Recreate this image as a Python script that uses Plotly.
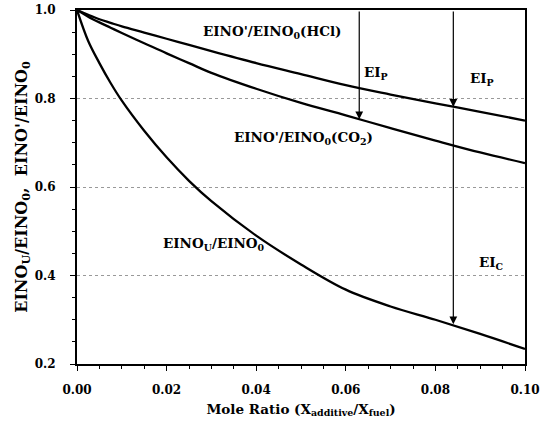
import plotly.graph_objects as go

# ---- data ----
mole_ratio = [0.0, 0.0025, 0.005, 0.0075, 0.01, 0.015, 0.02, 0.025, 0.03,
              0.04, 0.05, 0.06, 0.07, 0.08, 0.09, 0.10]
hcl_ratio = [1.0, 0.989, 0.979, 0.971, 0.963, 0.949, 0.935, 0.921, 0.907,
             0.880, 0.855, 0.830, 0.809, 0.789, 0.770, 0.750]
co2_ratio = [1.0, 0.985, 0.972, 0.960, 0.948, 0.925, 0.902, 0.880, 0.858,
             0.822, 0.790, 0.762, 0.733, 0.705, 0.678, 0.654]
unc_ratio = [1.0, 0.930, 0.880, 0.835, 0.795, 0.727, 0.667, 0.614, 0.568,
             0.490, 0.425, 0.368, 0.330, 0.300, 0.268, 0.234]

x_ticks = [0.00, 0.02, 0.04, 0.06, 0.08, 0.10]
x_tick_labels = ["0.00", "0.02", "0.04", "0.06", "0.08", "0.10"]
y_ticks = [0.2, 0.4, 0.6, 0.8, 1.0]
y_tick_labels = ["0.2", "0.4", "0.6", "0.8", "1.0"]

# arrows: (x, y_start, y_end)
arrows = [(0.063, 1.0, 0.753),
          (0.084, 1.0, 0.781),
          (0.084, 0.781, 0.290)]

# labels: (text, x, y, xanchor)
labels = [("EINO'/EINO<sub>0</sub>(HCl)", 0.0435, 0.951, "center"),
          ("EI<sub>P</sub>", 0.0637, 0.857, "left"),
          ("EI<sub>P</sub>", 0.0905, 0.843, "center"),
          ("EINO'/EINO<sub>0</sub>(CO<sub>2</sub>)", 0.0505, 0.711, "center"),
          ("EINO<sub>U</sub>/EINO<sub>0</sub>", 0.0305, 0.472, "center"),
          ("EI<sub>C</sub>", 0.0925, 0.428, "center")]

FONT = "DejaVu Serif"

fig = go.Figure()
for ys in (hcl_ratio, co2_ratio, unc_ratio):
    fig.add_trace(go.Scatter(x=mole_ratio, y=ys, mode="lines",
                             line=dict(color="black", width=2.3, shape="spline", smoothing=1.0),
                             showlegend=False, hoverinfo="skip"))

for (ax_x, y0, y1) in arrows:
    fig.add_annotation(x=ax_x, y=y1, ax=ax_x, ay=y0, xref="x", yref="y",
                       axref="x", ayref="y", showarrow=True, arrowhead=2,
                       arrowsize=1.3, arrowwidth=1.2, arrowcolor="black", text="")

for (t, lx, ly, anc) in labels:
    fig.add_annotation(x=lx, y=ly, text="<b>" + t + "</b>", showarrow=False,
                       xanchor=anc, yanchor="middle",
                       font=dict(family=FONT, size=13.5, color="black"))

fig.update_layout(
    width=545, height=426,
    margin=dict(l=77, r=20, t=10, b=62, autoexpand=False),
    paper_bgcolor="white", plot_bgcolor="white",
    font=dict(family=FONT, color="black"),
)
fig.update_xaxes(
    range=[0, 0.10], tickvals=x_ticks, ticktext=["<b>%s</b>" % s for s in x_tick_labels],
    tickfont=dict(family=FONT, size=12, color="black"),
    showline=True, linecolor="black", linewidth=1.5, mirror=True,
    ticks="outside", ticklen=5, tickwidth=1.2, tickcolor="black",
    minor=dict(dtick=0.005, ticks="outside", ticklen=3, tickwidth=1, tickcolor="black"),
    showgrid=False, zeroline=False, ticklabelstandoff=9, automargin=False,
    title=dict(text="<b>Mole Ratio (X<sub>additive</sub>/X<sub>fuel</sub>)</b>",
               font=dict(family=FONT, size=13.5, color="black"), standoff=8),
)
fig.update_yaxes(
    range=[0.2, 1.0], tickvals=y_ticks, ticktext=["<b>%s</b>" % s for s in y_tick_labels],
    tickfont=dict(family=FONT, size=12, color="black"),
    showline=True, linecolor="black", linewidth=2, mirror=True,
    ticks="outside", ticklen=5, tickwidth=1.2, tickcolor="black",
    minor=dict(dtick=0.05, ticks="outside", ticklen=3, tickwidth=1, tickcolor="black"),
    showgrid=True, gridcolor="#999999", griddash="dot", gridwidth=1,
    zeroline=False, ticklabelstandoff=12, automargin=False,
    title=dict(text="<b>EINO<sub>U</sub>/EINO<sub>0</sub>,  EINO'/EINO<sub>0</sub></b>",
               font=dict(family=FONT, size=16, color="black"), standoff=3),
)

fig.write_html("out.html", config={"displayModeBar": False},
               post_script="document.body.style.margin='0px';")
